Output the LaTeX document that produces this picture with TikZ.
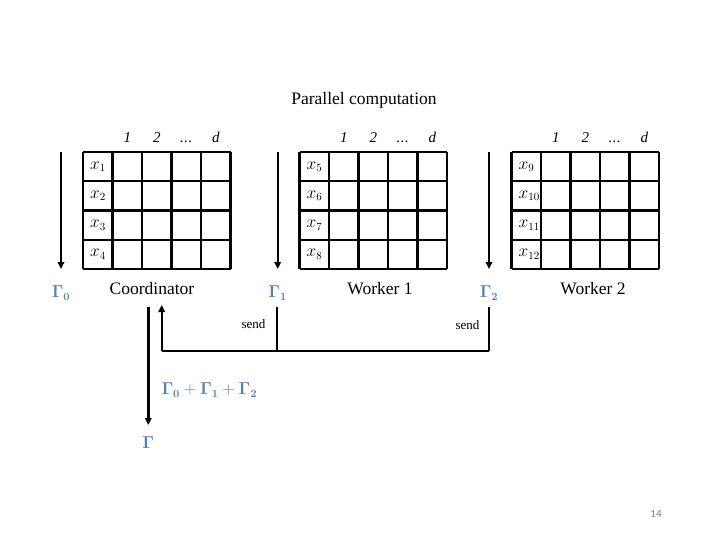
\documentclass[tikz,border=0pt]{standalone}
\usepackage{amsmath, amssymb}
\usepackage[no-math]{fontspec}
\setmainfont{Liberation Serif}
\newfontfamily\pagefont{Carlito}
\usetikzlibrary{arrows.meta}
\definecolor{gammablue}{RGB}{79,129,189}
\newcommand{\colgap}{.\kern0.5pt.\kern0.5pt.}

\begin{document}
\begin{tikzpicture}[x=1pt,y=-1pt,
	cellline/.style={line width=2.1pt},
	bar/.style={line width=2pt},
	flow/.style={line width=2.4pt,-{Triangle[length=7pt,width=6.5pt]}},
	gam/.style={text=gammablue,font=\fontsize{16}{18}\selectfont},
	lbl/.style={font=\fontsize{17.5}{20}\selectfont},
	hdr/.style={font=\fontsize{15}{17}\selectfont\itshape},
	rowlbl/.style={anchor=west,inner sep=2pt,font=\fontsize{16}{18}\selectfont}]
				\useasboundingbox (0,0) rectangle (720,540);
				\node[lbl] (title) at (364,100) {Parallel computation};
				% the three data blocks
				\foreach \gx/\first/\nm in {83/1/c, 299.5/5/w, 511.5/9/v} {
					\foreach \i in {0,...,5}
						\draw[cellline] (\gx+\i*29.5,152) -- (\gx+\i*29.5,269);
					\foreach \j in {0,...,4}
						\draw[cellline] (\gx,152+\j*29.25) -- (\gx+147.5,152+\j*29.25);
					\foreach \j in {0,...,3} {
						\pgfmathtruncatemacro\k{\first+\j}
						\node[rowlbl] (\nm x\k) at (\gx+5,152+\j*29.25+14.6) {$x_{\k}$};
					}
					\foreach \i/\t in {1/1, 2/2, 3/\colgap, 4/d}
						\node[hdr,anchor=base] (\nm h\i) at (\gx+\i*29.5+14.75,143) {\t};
				}
				% partial results
				\foreach \ax/\n in {61/0, 277.7/1, 489/2} {
					\coordinate (top\n) at (\ax,152);
					\coordinate (tip\n) at (\ax,269);
					\draw[flow] (top\n) -- (tip\n);
					\node[gam] (gam\n) at (\ax,293) {$\mathbf{\Gamma}_{\mathbf{\n}}$};
				}
				\node[lbl] (coord) at (152,289) {Coordinator};
				\node[lbl] (work1) at (380,289) {Worker 1};
				\node[lbl] (work2) at (593,289) {Worker 2};
				% sending back
				\coordinate (s1) at (277,307);
				\coordinate (s1b) at (277,351);
				\coordinate (s2) at (489,307);
				\coordinate (s2b) at (489,351);
				\coordinate (rb) at (161.7,351);
				\coordinate (rt) at (161.7,305);
				\draw[bar] (s1) -- (s1b);
				\draw[bar] (s2) -- (s2b);
				\draw[bar] (s2b) -- (rb);
				\draw[flow] (rb) -- (rt);
				\node[font=\fontsize{13}{15}\selectfont,anchor=east] (send1) at (269,324) {send};
				\node[font=\fontsize{13}{15}\selectfont,anchor=east] (send2) at (483,325) {send};
				% total
				\coordinate (cd) at (148.3,307);
				\coordinate (cdtip) at (148.3,425);
				\draw[flow] (cd) -- (cdtip);
				\node[gam,anchor=west] (sum) at (158,390) {$\mathbf{\Gamma}_{\mathbf{0}}+\mathbf{\Gamma}_{\mathbf{1}}+\mathbf{\Gamma}_{\mathbf{2}}$};
				\node[gam] (total) at (148.3,443) {$\mathbf{\Gamma}$};
				\node[font=\pagefont\fontsize{11}{13}\selectfont,text=gray] (page) at (656,514) {14};
\end{tikzpicture}
\end{document}
